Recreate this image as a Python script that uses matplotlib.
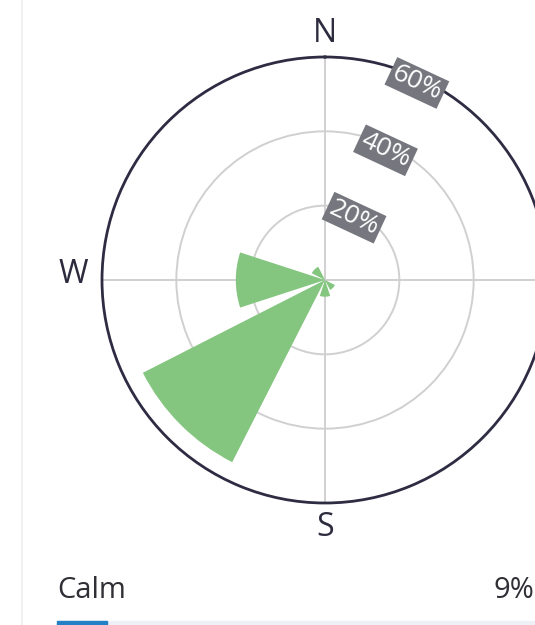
import matplotlib.pyplot as plt
import numpy as np

#%% Data
directions = ['N', 'NE', 'E', 'SE', 'S', 'SW', 'W', 'NW']
bearings = [0, 45, 90, 135, 180, 225, 270, 315]
freq_pct = [0, 0, 0, 3, 4.5, 55, 24, 4]
ring_ticks = [20, 40, 60]
ring_labels = ['20%', '40%', '60%']
calm_label = 'Calm'
calm_pct = 9

#%% Figure
W, H = 535, 625
fig = plt.figure(figsize=(W / 100, H / 100), dpi=100)
fig.patch.set_facecolor('white')

cx, cy, R = 325, 280, 223
ax = fig.add_axes([(cx - R) / W, (H - cy - R) / H, 2 * R / W, 2 * R / H],
                  projection='polar')
ax.set_theta_zero_location('N')
ax.set_theta_direction(-1)
ax.set_ylim(0, ring_ticks[-1])

theta = np.deg2rad(bearings)
ax.bar(theta, freq_pct, width=np.deg2rad(36), color='#84c57f',
       edgecolor='none', zorder=3)

# grid
ax.set_thetagrids([0, 90, 180, 270], labels=['', '', '', ''])
ax.set_rgrids(ring_ticks[:-1], labels=['', ''])
ax.grid(color='#d0d0d0', linewidth=1.4)
ax.spines['polar'].set_color('#2e2c42')
ax.spines['polar'].set_linewidth(2)

# compass letters (E is outside the card)
for lab, (px, py) in zip(['N', 'S', 'W'], [(325, 33), (325, 527), (73, 275)]):
    fig.text(px / W, 1 - py / H, lab, fontsize=23, color='#2d2c3e',
             family='Open Sans', ha='center', va='center')

# ring labels
for r, lab in zip(ring_ticks, ring_labels):
    ax.text(np.deg2rad(25), r - 1.5, lab, rotation=-25, ha='center',
            va='center', color='white', fontsize=19, family='Open Sans',
            rotation_mode='anchor', zorder=5,
            bbox=dict(boxstyle='square,pad=0.1', facecolor='#76767f',
                      edgecolor='none'))

#%% Card border and calm row
fig.add_artist(plt.Line2D([22 / W, 22 / W], [0, 1], color='#eeeeee',
                          linewidth=1.2))
fig.text(57 / W, 1 - 590 / H, calm_label, fontsize=21, color='#2f2f36',
         family='Open Sans', va='center', ha='left')
fig.text(534 / W, 1 - 590 / H, f'{calm_pct}%', fontsize=21, color='#2f2f36',
         family='Open Sans', va='center', ha='right')
bar_y = 1 - 625 / H
fig.add_artist(plt.Rectangle((57 / W, bar_y), 1, 4 / H, color='#eef0f6'))
fig.add_artist(plt.Rectangle((57 / W, bar_y), 50 / W, 4 / H, color='#2480c4'))

fig.savefig('out.png', dpi=100)
